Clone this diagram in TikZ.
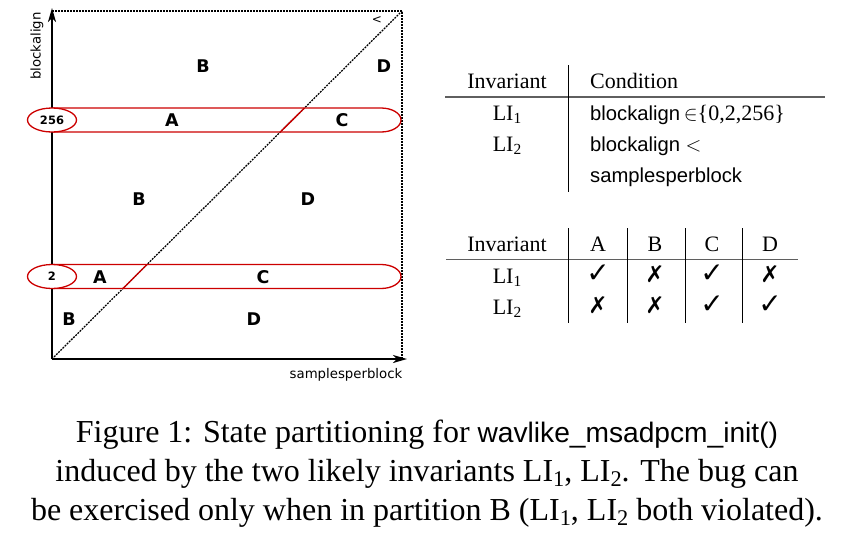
\documentclass[tikz,border=0pt]{standalone}
\usepackage{fontspec}
\setmainfont{Liberation Serif}
\setsansfont{Liberation Sans}[Scale=0.92]
\newfontfamily\dvs{DejaVu Sans}
\usetikzlibrary{arrows.meta,shapes.geometric,calc}
\definecolor{bandred}{RGB}{204,0,0}
\definecolor{rulegray}{RGB}{95,95,95}
\newcommand\lisub[1]{\raisebox{-0.16em}{\scalebox{0.7}{#1}}}
\begin{document}
\begin{tikzpicture}[x=1pt,y=-1pt,
  region/.style={font=\dvs\bfseries\fontsize{17.5}{20}\selectfont, inner sep=0pt},
  axisline/.style={line width=1.8pt, -{Stealth[length=14pt,width=8pt,inset=4pt]}},
  frameline/.style={line width=1.25pt, dash pattern=on 1.9pt off 1.1pt},
  band/.style={draw=bandred, line width=1.3pt},
  valbox/.style={draw=bandred, fill=white, line width=1.3pt, ellipse,
    minimum width=49pt, minimum height=24pt, inner sep=0pt,
    font=\dvs\bfseries\fontsize{11.5}{13}\selectfont},
  axlabel/.style={font=\dvs\fontsize{13.3}{15}\selectfont, inner sep=0pt},
  tab/.style={font=\fontsize{22}{26}\selectfont, inner sep=0pt, anchor=base},
  tabl/.style={tab, anchor=base west},
  okmark/.style={font=\dvs\bfseries\fontsize{28}{30}\selectfont, inner sep=0pt, anchor=base},
  nomark/.style={font=\dvs\bfseries\fontsize{23}{26}\selectfont, inner sep=0pt, anchor=base},
  hrule/.style={draw=rulegray, line width=1.6pt},
  vrule/.style={draw=black, line width=0.9pt},
  captext/.style={font=\fontsize{32}{39}\selectfont, inner sep=0pt, anchor=base}
]
\useasboundingbox (0,0) rectangle (854,552);

% ---- plot ----
\coordinate (O) at (52,359);
\coordinate (TL) at (52,11);
\coordinate (TR) at (402,11);
\coordinate (BR) at (402,359);
\coordinate (Ytip) at (52,8);
\coordinate (Xtip) at (407,359);

\draw[frameline] (TL) -- (TR) -- (BR);
\draw[frameline] (O) -- (TR);

\draw[band] (52,108) -- (381,108) arc[start angle=-90,end angle=90,x radius=20,y radius=12] -- (52,132);
\draw[band] (52,264.5) -- (381,264.5) arc[start angle=-90,end angle=90,x radius=20,y radius=12] -- (52,288.5);
\draw[bandred, line width=1.3pt] ($(O)!0.6523!(TR)$) -- ($(O)!0.7213!(TR)$);
\draw[bandred, line width=1.3pt] ($(O)!0.2025!(TR)$) -- ($(O)!0.2716!(TR)$);

\draw[axisline] (O) -- (Ytip);
\draw[axisline] (O) -- (Xtip);

\node[valbox] (v256) at (52,120) {256};
\node[valbox] (v2) at (52,276.5) {2};

\node[axlabel, rotate=90] (ylab) at (37,46) {blockalign};
\node[axlabel] (xlab) at (346,375) {samplesperblock};
\node[font=\dvs\fontsize{12}{14}\selectfont, inner sep=0pt] (lt) at (377,20) {<};

\node[region] (b1) at (203,66) {B};
\node[region] (d1) at (384,66) {D};
\node[region] (a1) at (172,120) {A};
\node[region] (c1) at (342,120) {C};
\node[region] (b2) at (139,199) {B};
\node[region] (d2) at (308,199) {D};
\node[region] (a2) at (100,277.5) {A};
\node[region] (c2) at (263,277.5) {C};
\node[region] (b3) at (69,319) {B};
\node[region] (d3) at (254,319) {D};

% ---- table 1 ----
\node[tab] (t1h1) at (507,88) {Invariant};
\node[tabl] (t1h2) at (590,88) {Condition};
\node[tab] (t1r1) at (507,120) {LI\lisub{1}};
\node[tabl] (t1c1) at (590,120) {{\sffamily blockalign}\,$\in$\{0,2,256\}};
\node[tab] (t1r2) at (507,151) {LI\lisub{2}};
\node[tabl] (t1c2) at (590,151) {{\sffamily blockalign} $<$};
\node[tabl] (t1c3) at (590,182) {{\sffamily samplesperblock}};
\draw[hrule] (445,97) -- (825,97);
\draw[vrule] (568,65) -- (568,192);

% ---- table 2 ----
\node[tab] (t2h0) at (507,251) {Invariant};
\node[tab] (t2hA) at (598,251) {A};
\node[tab] (t2hB) at (655,251) {B};
\node[tab] (t2hC) at (712,251) {C};
\node[tab] (t2hD) at (770,251) {D};
\node[tab] (t2r1) at (507,283) {LI\lisub{1}};
\node[tab] (t2r2) at (507,314) {LI\lisub{2}};
\node[okmark] (k1A) at (598,282) {✓};
\node[nomark] (k1B) at (655,282) {✗};
\node[okmark] (k1C) at (712,282) {✓};
\node[nomark] (k1D) at (770,282) {✗};
\node[nomark] (k2A) at (598,313) {✗};
\node[nomark] (k2B) at (655,313) {✗};
\node[okmark] (k2C) at (712,313) {✓};
\node[okmark] (k2D) at (770,313) {✓};
\draw[hrule] (446,259.5) -- (798,259.5);
\foreach \xx in {568,627,685,742} \draw[vrule] (\xx,228) -- (\xx,323);

% ---- caption ----
\node[captext] (cap1) at (427,442) {Figure 1: State partitioning for {\sffamily\addfontfeatures{Scale=0.88}wavlike\_msadpcm\_init()}};
\node[captext] (cap2) at (427,481) {induced by the two likely invariants LI\lisub{1}, LI\lisub{2}. The bug can};
\node[captext] (cap3) at (427,520) {be exercised only when in partition B (LI\lisub{1}, LI\lisub{2} both violated).};
\end{tikzpicture}
\end{document}
